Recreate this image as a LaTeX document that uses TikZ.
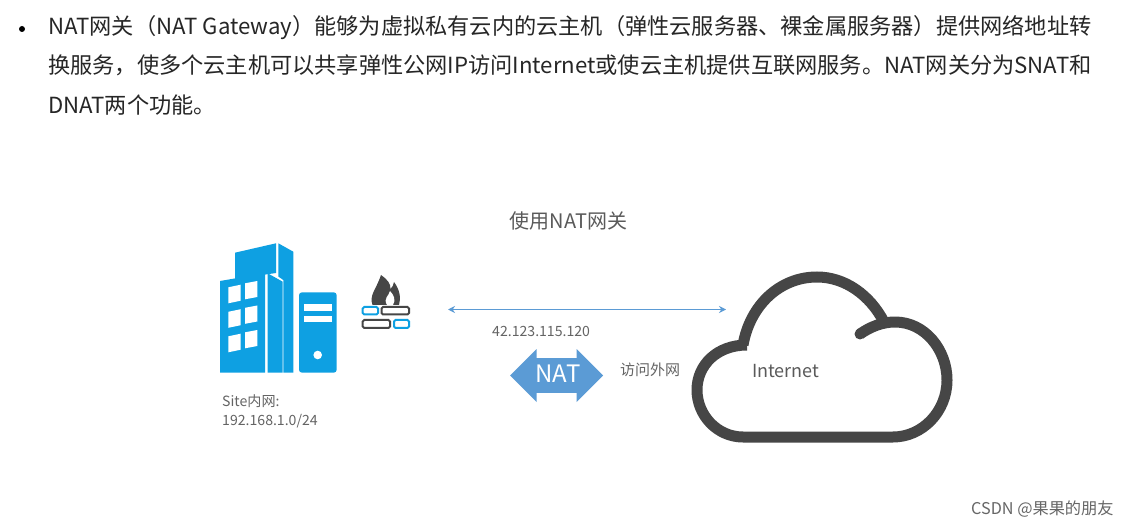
\documentclass[tikz,border=0pt]{standalone}
\usepackage{fontspec}
\usepackage{xcolor}
\setmainfont{Noto Sans CJK SC}
\usetikzlibrary{shapes.arrows, arrows.meta}
\definecolor{sitecyan}{RGB}{14, 160, 226}
\definecolor{natblue}{RGB}{91, 155, 213}
\definecolor{cloudgray}{RGB}{70, 70, 70}
\definecolor{labelgray}{RGB}{100, 100, 100}

\begin{document}
\begin{tikzpicture}[
  x=1pt,
  y=-1pt,
  bodytext/.style={
    anchor=base west,
    inner sep=0pt,
    font=\fontsize{22.2}{26}\selectfont,
    text=black!85,
  },
  smalllabel/.style={
    anchor=base west,
    inner sep=0pt,
    text=labelgray,
    font=\fontsize{14.1}{17}\selectfont,
  },
  natarrow/.style={
    shape=double arrow,
    fill=natblue,
    text=white,
    inner sep=0pt,
    text width=42pt,
    align=center,
    minimum height=93pt,
    minimum width=53pt,
    text height=20pt,
    text depth=7pt,
    font=\fontsize{24}{24}\selectfont,
  },
  windowpane/.style={fill=white},
  brickcyan/.style={draw=sitecyan, line width=2pt, fill=white, rounded corners=1.5pt},
  brickdark/.style={draw=cloudgray, line width=2pt, fill=white, rounded corners=1.5pt},
]
  \useasboundingbox (0, 0) rectangle (1129, 526);
  \fill[white] (0, 0) rectangle (1129, 526);

  % === Intro paragraph ===
  \fill[black] (22, 29) circle (3);
  \node[bodytext] (line-a) at (48, 35) {NAT网关（NAT Gateway）能够为虚拟私有云内的云主机（弹性云服务器、裸金属服务器）提供网络地址转};
  \node[bodytext] (line-b) at (48, 74) {换服务，使多个云主机可以共享弹性公网IP访问Internet或使云主机提供互联网服务。NAT网关分为SNAT和};
  \node[bodytext] (line-c) at (48, 114) {DNAT两个功能。};

  % === Title ===
  \node[anchor=base, inner sep=0pt, text=labelgray!90!black, font=\fontsize{20}{24}\selectfont] (title) at (568.5, 229) {使用NAT网关};

  % === Site buildings (left) ===
  \fill[sitecyan] (235, 252.7) -- (276, 243.3) -- (276, 273) -- (235, 279) -- cycle;
  \fill[sitecyan] (278.3, 243.3) -- (293.3, 251.7) -- (293.3, 372.7) -- (283.3, 372.7) -- (283.3, 280) -- (278.3, 276.5) -- cycle;
  \fill[sitecyan] (220, 281) -- (265, 273.3) -- (265, 372.7) -- (220, 372.7) -- cycle;
  \fill[sitecyan] (267.7, 273.3) -- (282.7, 281.7) -- (282.7, 372.7) -- (267.7, 372.7) -- cycle;
  % windows
  \foreach \rowy in {0, 24.5, 49} {
    \fill[windowpane] (228.3, 287.3+\rowy) -- (240.7, 284.7+\rowy) -- (240.7, 300.7+\rowy) -- (228.3, 303.3+\rowy) -- cycle;
    \fill[windowpane] (245, 283.3+\rowy) -- (257.3, 281+\rowy) -- (257.3, 297+\rowy) -- (245, 299.3+\rowy) -- cycle;
  }
  % server
  \fill[sitecyan, rounded corners=3pt] (299, 292.3) rectangle (336.7, 372.7);
  \fill[white] (304, 304) rectangle (331.7, 310.7);
  \fill[white] (304, 316) rectangle (331.7, 322);
  \fill[white] (317.7, 355) circle (4.3);

  % === Firewall ===
  \fill[cloudgray] (372.5, 305) .. controls (369, 295) and (376, 290) .. (381, 275)
    .. controls (387, 279) and (391, 284) .. (390.5, 289) .. controls (392, 287) and (394, 285) .. (394, 282)
    .. controls (400, 290) and (401, 298) .. (399, 305) -- cycle;
  \fill[white] (387, 305) .. controls (383, 298) and (389, 296) .. (390, 291)
    .. controls (394, 295) and (396, 300) .. (393, 305) -- cycle;
  \filldraw[brickcyan] (362.7, 307) rectangle (378, 314.5);
  \filldraw[brickdark] (381.5, 307) rectangle (409, 314.5);
  \filldraw[brickdark] (362.7, 320) rectangle (390, 328);
  \filldraw[brickcyan] (394, 320) rectangle (409, 328);

  % === Site label ===
  \node[smalllabel] (site-a) at (222, 406) {Site内网:};
  \node[smalllabel] (site-b) at (222, 425) {192.168.1.0/24};

  % === Link and NAT ===
  \coordinate (link-l) at (448, 309.5);
  \coordinate (link-r) at (726, 309.5);
  \draw[natblue, line width=1.8pt, {Stealth[length=7pt, width=7pt]}-{Stealth[length=7pt, width=7pt]}] (link-l) -- (link-r);
  \node[smalllabel] (wan-ip) at (492, 337) {42.123.115.120};
  \node[natarrow] (nat) at (556.5, 375.5) {NAT};
  \node[smalllabel, font=\fontsize{15}{18}\selectfont] (visit) at (620, 375) {访问外网};

  % === Cloud (right) ===
  \fill[cloudgray] (860, 334) circle (5.5);
  \draw[cloudgray, line width=11pt, line join=round]
    (860, 334) .. controls (870, 327) and (882, 322) .. (895, 322)
    .. controls (925, 322) and (947, 350) .. (947, 380)
    .. controls (947, 412) and (922, 437) .. (893, 437)
    -- (743, 437)
    .. controls (717, 437) and (697, 415) .. (697, 390)
    .. controls (697, 365) and (717, 345) .. (747, 345);
  \draw[cloudgray, line width=11pt]
    (743, 345) .. controls (750, 305) and (780, 277) .. (817, 277)
    .. controls (845, 277) and (870, 295) .. (884, 322);
  \node[anchor=base west, inner sep=0pt, text=labelgray!90!black, font=\fontsize{18}{22}\selectfont] (internet) at (752, 377) {Internet};

  % === Watermark ===
  \node[anchor=base west, inner sep=0pt, text=black!60, font=\fontsize{16.2}{20}\selectfont] (mark) at (971, 514) {CSDN @果果的朋友};
\end{tikzpicture}
\end{document}
